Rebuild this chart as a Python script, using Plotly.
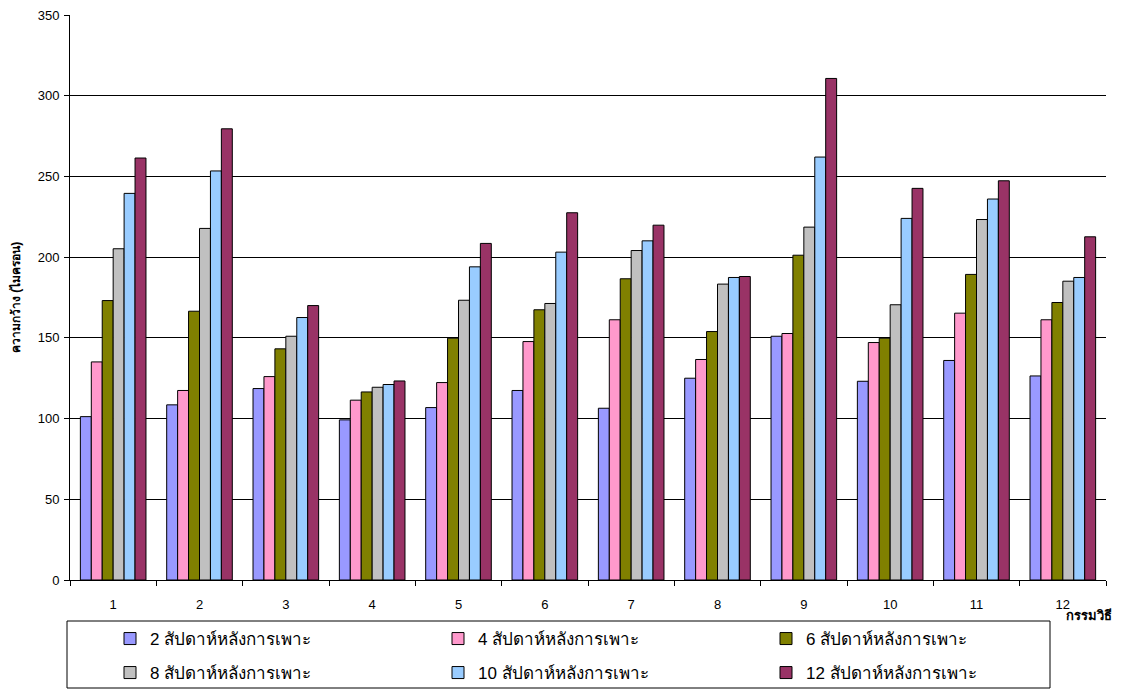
import plotly.graph_objects as go

# Treatments (กรรมวิธี) 1-12
treatments = [str(i) for i in range(1, 13)]

# Width (microns) measured at each week after sowing
week2 = [101.2, 108.5, 118.6, 99.2, 106.8, 117.4, 106.4, 125.0, 151.0, 123.1, 136.0, 126.4]
week4 = [135.1, 117.4, 126.0, 111.4, 122.3, 147.7, 161.2, 136.6, 152.7, 147.1, 165.3, 161.2]
week6 = [173.1, 166.5, 143.2, 116.5, 149.8, 167.4, 186.6, 153.9, 201.2, 149.8, 189.3, 171.9]
week8 = [205.2, 217.8, 151.0, 119.4, 173.3, 171.3, 204.1, 183.3, 218.6, 170.5, 223.3, 185.1]
week10 = [239.5, 253.4, 162.6, 121.1, 194.0, 203.1, 210.1, 187.4, 262.0, 224.0, 236.0, 187.4]
week12 = [261.4, 279.5, 170.0, 123.3, 208.5, 227.5, 219.8, 188.0, 310.7, 242.6, 247.3, 212.6]

series_names = [
    "2 สัปดาห์หลังการเพาะ",
    "4 สัปดาห์หลังการเพาะ",
    "6 สัปดาห์หลังการเพาะ",
    "8 สัปดาห์หลังการเพาะ",
    "10 สัปดาห์หลังการเพาะ",
    "12 สัปดาห์หลังการเพาะ",
]
series_values = [week2, week4, week6, week8, week10, week12]
colors = ["#9999FF", "#FF99CC", "#808000", "#C0C0C0", "#99CCFF", "#993366"]

FONT = "Arial, Liberation Sans, sans-serif"

# plot area in pixels (for placing legend rows and the legend frame)
W, H = 1125, 690
L, R, T, B = 70, 19, 15, 110
PW, PH = W - L - R, H - T - B


def px_x(px):
    return (px - L) / PW


def px_y(py):
    return (H - B - py) / PH


fig = go.Figure()
for i, (name, vals, col) in enumerate(zip(series_names, series_values, colors)):
    fig.add_trace(go.Bar(
        x=treatments, y=vals, name=name,
        marker=dict(color=col, line=dict(color="#000000", width=1)),
        legend="legend" if i < 3 else "legend2",
    ))

legend_common = dict(
    orientation="h",
    xanchor="left", yanchor="middle",
    entrywidth=283, entrywidthmode="pixels",
    borderwidth=0, bgcolor="rgba(0,0,0,0)",
    font=dict(family=FONT, size=17, color="#000000"),
    tracegroupgap=0,
)

fig.update_layout(
    width=W, height=H,
    margin=dict(l=L, r=R, t=T, b=B, autoexpand=False),
    paper_bgcolor="white", plot_bgcolor="white",
    barmode="group", bargap=0.24, bargroupgap=0,
    font=dict(family=FONT, size=13, color="#000000"),
    showlegend=True,
    legend=dict(x=px_x(110), y=px_y(639), **legend_common),
    legend2=dict(x=px_x(110), y=px_y(673), **legend_common),
    xaxis=dict(
        showline=True, linecolor="#000000", linewidth=1,
        ticks="outside", ticklen=5, tickcolor="#000000",
        tickson="boundaries", ticklabelstandoff=12,
        tickfont=dict(size=13),
        automargin=False,
    ),
    yaxis=dict(
        range=[0, 350], dtick=50,
        showline=True, linecolor="#000000", linewidth=1,
        ticks="outside", ticklen=5, tickcolor="#000000",
        ticklabelstandoff=2,
        showgrid=True, gridcolor="#000000", gridwidth=1,
        zeroline=False,
        tickfont=dict(size=13),
        automargin=False,
        title=dict(text="<b>ความกว้าง (ไมครอน)</b>", font=dict(size=12), standoff=14),
    ),
    shapes=[
        dict(
            type="rect", xref="paper", yref="paper",
            x0=px_x(67), x1=px_x(1050), y0=px_y(688), y1=px_y(621),
            line=dict(color="#000000", width=1), fillcolor="rgba(0,0,0,0)",
        )
    ],
    annotations=[
        dict(
            text="<b>กรรมวิธี</b>", xref="paper", yref="paper",
            x=px_x(1114), y=px_y(615), xanchor="right", yanchor="middle",
            showarrow=False, font=dict(size=13),
        )
    ],
)

fig.write_html("out.html")
